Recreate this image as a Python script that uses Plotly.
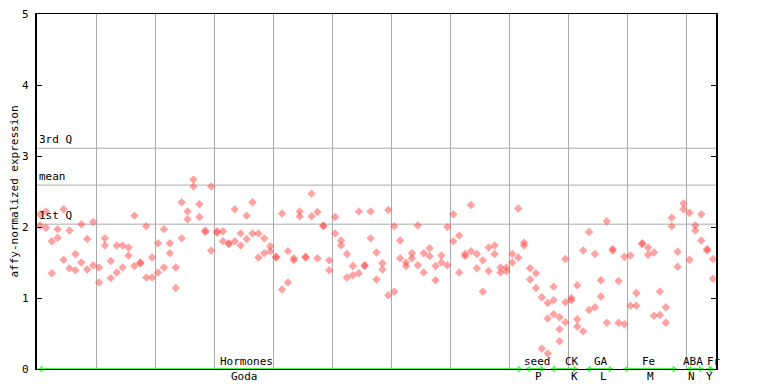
import plotly.graph_objects as go

# ---- data ----
sample_idx = list(range(1, 116))
rep1 = [2.18, 2.22, 1.80, 1.97, 2.25, 1.95, 1.62, 2.04, 1.83, 2.07,
        1.43, 1.84, 1.52, 1.74, 1.74, 1.71, 2.16, 1.50, 2.01, 1.57,
        1.77, 1.97, 1.77, 1.43, 2.35, 2.22, 2.67, 2.32, 1.95, 2.57,
        1.94, 1.94, 1.77, 2.25, 1.91, 2.16, 2.35, 1.91, 1.84, 1.73,
        1.58, 2.19, 1.66, 1.56, 2.22, 1.58, 2.47, 2.21, 2.02, 1.53,
        2.14, 1.81, 1.62, 1.45, 2.22, 1.46, 2.22, 1.64, 1.49, 2.24,
        2.01, 1.81, 1.50, 1.63, 2.02, 1.63, 1.70, 1.45, 1.60, 2.00,
        2.18, 1.88, 1.62, 2.31, 1.62, 1.53, 1.71, 1.74, 1.43, 1.43,
        1.62, 2.26, 1.78, 1.42, 1.35, 1.01, 0.93, 1.16, 0.73, 1.55,
        1.00, 1.18, 1.67, 1.93, 1.62, 1.25, 2.08, 1.69, 1.24, 1.58,
        1.60, 1.07, 1.77, 1.71, 1.64, 1.09, 0.87, 2.13, 1.65, 2.33,
        2.20, 2.02, 2.18, 1.69, 1.55]
rep2 = [2.02, 1.99, 1.35, 1.85, 1.54, 1.42, 1.39, 1.50, 1.40, 1.46,
        1.22, 1.74, 1.28, 1.36, 1.43, 1.60, 1.45, 1.49, 1.29, 1.29,
        1.36, 1.43, 1.63, 1.14, 1.84, 2.11, 2.57, 2.14, 1.93, 1.67,
        1.92, 1.80, 1.76, 1.80, 1.74, 1.83, 1.91, 1.57, 1.63, 1.66,
        1.57, 1.12, 1.22, 1.53, 2.15, 1.57, 2.15, 1.56, 2.01, 1.39,
        1.91, 1.74, 1.29, 1.32, 1.35, 1.45, 1.84, 1.26, 1.40, 1.04,
        1.09, 1.56, 1.45, 1.56, 1.46, 1.36, 1.59, 1.25, 1.50, 1.46,
        1.80, 1.36, 1.59, 1.66, 1.42, 1.09, 1.38, 1.62, 1.36, 1.38,
        1.50, 1.57, 1.74, 1.26, 1.14, 0.29, 0.71, 0.97, 0.56, 0.94,
        0.97, 0.70, 0.53, 0.83, 0.87, 1.02, 0.65, 1.67, 0.65, 0.63,
        0.89, 0.89, 1.76, 1.61, 0.75, 0.76, 0.65, 2.01, 1.44, 2.25,
        1.54, 1.95, 1.81, 1.67, 1.27]
# third replicate only present for a few seed / CK samples
rep3_idx = [87, 88, 89, 90, 92]
rep3 = [0.22, 0.77, 0.39, 0.66, 0.60]

q_labels = ["3rd Q", "mean", "1st Q"]
q_values = [3.11, 2.59, 2.04]

y_ticks = [0, 1, 2, 3, 4, 5]
y_tick_text = ["0", "1", "2", "3", "4", "5"]
x_grid = [10, 20, 30, 40, 50, 60, 70, 80, 90, 100, 110]

top_labels = ["Hormones", "seed", "CK", "GA", "Fe", "ABA", "Fr"]
top_pos = [35.5, 84.7, 90.6, 95.5, 103.5, 111.1, 114.6]
bottom_labels = ["Goda", "P", "K", "L", "M", "N", "Y"]
bottom_pos = [35.1, 84.9, 91.0, 95.9, 103.9, 110.9, 113.9]
group_start = [0.2, 82.8, 87.0, 93.0, 99.3, 110.0, 113.4]
group_end = [82.2, 86.0, 91.6, 97.6, 108.4, 112.9, 114.6]

FONT = "DejaVu Sans Mono"
PT = "rgba(255,70,70,0.5)"
GREEN = "#3cff3c"

fig = go.Figure()

# group arrows on the baseline
for s, e in zip(group_start, group_end):
    fig.add_trace(go.Scatter(x=[s, e], y=[0, 0], mode="lines",
                             line=dict(color=GREEN, width=2),
                             hoverinfo="skip", showlegend=False, cliponaxis=False))
    fig.add_trace(go.Scatter(x=[s + 0.5, e - 0.5], y=[0, 0], mode="markers",
                             marker=dict(symbol=["triangle-left", "triangle-right"], size=6,
                                         color=GREEN, line=dict(width=0)),
                             hoverinfo="skip", showlegend=False, cliponaxis=False))

xs = [i - 0.5 for i in sample_idx]
for xv, yv in ((xs, rep1), (xs, rep2), ([i - 0.5 for i in rep3_idx], rep3)):
    fig.add_trace(go.Scatter(x=xv, y=yv, mode="markers",
                             marker=dict(symbol="diamond", size=6.5, color=PT, line=dict(width=0)),
                             showlegend=False))

# quartile / mean lines
for lab, v in zip(q_labels, q_values):
    fig.add_shape(type="line", xref="paper", x0=0, x1=1, yref="y", y0=v, y1=v,
                  line=dict(color="#aaaaaa", width=1), layer="below")
    fig.add_annotation(text=lab, xref="paper", x=0, xanchor="left", yref="y", y=v,
                       yanchor="bottom", yshift=0, showarrow=False,
                       font=dict(family=FONT, size=11, color="black"))

# y tick labels (as text so the top one is not dropped at the figure edge)
for t, lab in zip(y_ticks, y_tick_text):
    fig.add_annotation(text=lab, xref="paper", x=0, xanchor="right", xshift=-6,
                       yref="y", y=t, yanchor="middle", showarrow=False,
                       font=dict(family=FONT, size=11, color="black"))

for lab, p in zip(top_labels, top_pos):
    fig.add_annotation(text=lab, x=p, y=0, xref="x", yref="y", yshift=8,
                       showarrow=False, font=dict(family=FONT, size=11, color="black"))
for lab, p in zip(bottom_labels, bottom_pos):
    fig.add_annotation(text=lab, x=p, y=0, xref="x", yref="y", yshift=-7,
                       showarrow=False, font=dict(family=FONT, size=11, color="black"))

# the page body adds an 8px offset, so the figure is 760x376 and margins are reduced
fig.update_layout(
    width=760, height=376, autosize=False,
    margin=dict(l=29, r=52, t=6, b=15, pad=0),
    paper_bgcolor="white", plot_bgcolor="white",
    font=dict(family=FONT, size=11, color="black"),
    xaxis=dict(range=[0, 115], tickvals=x_grid, showticklabels=False, automargin=False,
               showgrid=True, gridcolor="#aaaaaa", gridwidth=1, zeroline=False,
               showline=True, linecolor="black", linewidth=1, mirror=True, ticks=""),
    yaxis=dict(range=[0, 5], tickvals=y_ticks, showticklabels=False,
               showgrid=False, zeroline=False, automargin=False,
               showline=True, linecolor="black", linewidth=1.5, mirror="ticks",
               ticks="inside", ticklen=5, tickcolor="black",
               title=dict(text="affy-normalized expression", standoff=22,
                          font=dict(family=FONT, size=11))),
)

fig.write_html("out.html")
